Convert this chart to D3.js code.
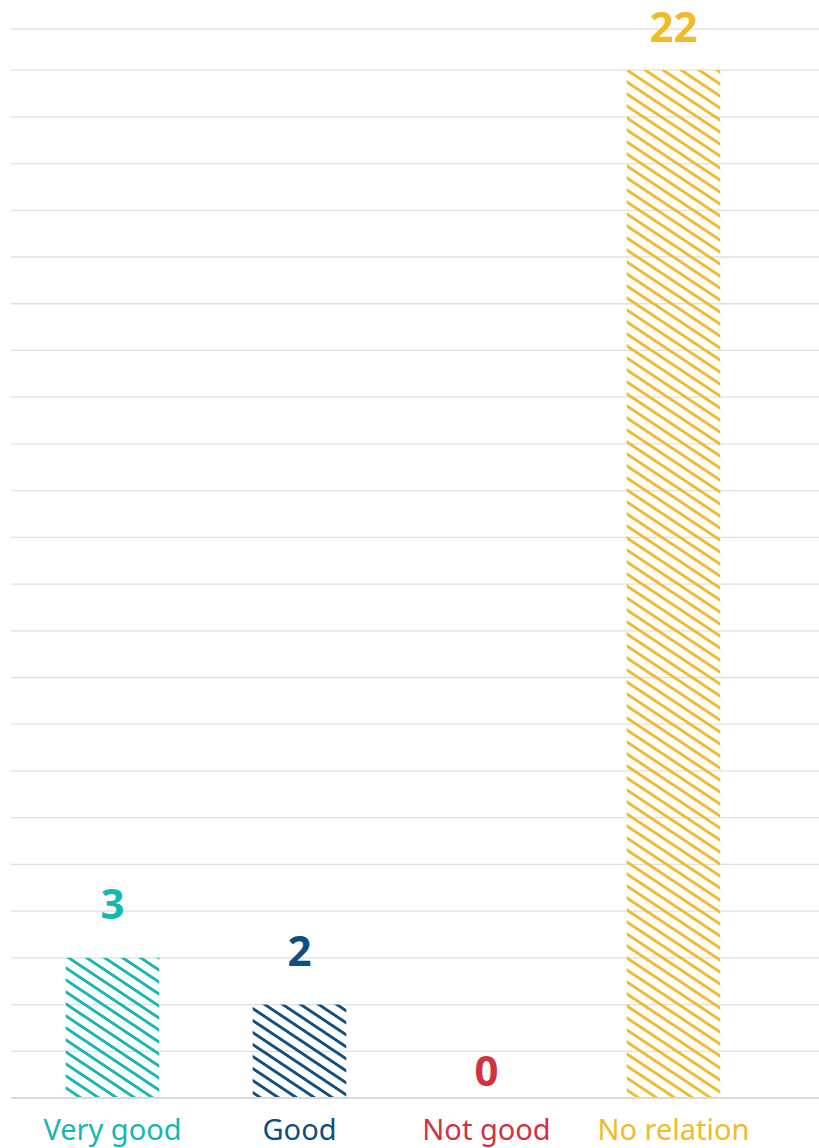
<!DOCTYPE html>
<html>
<head>
<meta charset="utf-8">
<script src="https://cdn.jsdelivr.net/npm/d3@7"></script>
<style>
  html, body { margin: 0; padding: 0; background: #fff; }
  svg { display: block; }
</style>
</head>
<body>
<svg id="chart" width="819" height="1148"></svg>
<script>
const categories = ["Very good", "Good", "Not good", "No relation"];
const values = [3, 2, 0, 22];
const colors = ["#14b8b0", "#0d4f80", "#d2323f", "#f0bb2a"];
const gridTicks = d3.range(0, 23);

const W = 819, H = 1148;
const svg = d3.select("#chart");
const font = "'Noto Sans', 'Open Sans', sans-serif";

const y = d3.scaleLinear().domain([0, 22.88]).range([1098, 29]);
const x = d3.scaleBand().domain(categories).range([19, 767]).paddingInner(0.5).paddingOuter(0.25);

// patterns
const defs = svg.append("defs");
categories.forEach((c, i) => {
  const p = defs.append("pattern")
    .attr("id", "hatch" + i)
    .attr("patternUnits", "userSpaceOnUse")
    .attr("width", 18).attr("height", 12);
  p.append("path")
    .attr("d", "M-18,-12L36,24M0,-12L36,12M-18,0L18,24")
    .attr("stroke", colors[i])
    .attr("stroke-width", 2.8)
    .attr("fill", "none");
});

// gridlines
const grid = svg.append("g");
grid.selectAll("line.g").data(gridTicks.filter(d => d > 0)).join("line")
  .attr("x1", 11).attr("x2", W)
  .attr("y1", d => y(d)).attr("y2", d => y(d))
  .attr("stroke", "#e0e0e0").attr("stroke-width", 1.3);
grid.append("line")
  .attr("x1", 11).attr("x2", W)
  .attr("y1", y.range()[1]).attr("y2", y.range()[1])
  .attr("stroke", "#e0e0e0").attr("stroke-width", 1.3);

// bars
svg.append("g").selectAll("rect").data(values).join("rect")
  .attr("x", (d, i) => x(categories[i]))
  .attr("width", x.bandwidth())
  .attr("y", d => y(d))
  .attr("height", d => y(0) - y(d))
  .attr("fill", (d, i) => `url(#hatch${i})`);

// baseline
svg.append("line")
  .attr("x1", 11).attr("x2", W)
  .attr("y1", y(0)).attr("y2", y(0))
  .attr("stroke", "#d9d9d9").attr("stroke-width", 2.2);

// value labels
svg.append("g").selectAll("text").data(values).join("text")
  .attr("x", (d, i) => x(categories[i]) + x.bandwidth() / 2)
  .attr("y", d => d === 0 ? y(0) - 12 : Math.max(42, y(d) - 39))
  .attr("text-anchor", "middle")
  .attr("font-family", font)
  .attr("font-weight", 700)
  .attr("font-size", 42)
  .attr("fill", (d, i) => colors[i])
  .text(d => d);

// category labels
svg.append("g").selectAll("text").data(categories).join("text")
  .attr("x", d => x(d) + x.bandwidth() / 2)
  .attr("y", 1140)
  .attr("text-anchor", "middle")
  .attr("font-family", font)
  .attr("font-size", 29)
  .attr("fill", (d, i) => colors[i])
  .text(d => d);
</script>
</body>
</html>
